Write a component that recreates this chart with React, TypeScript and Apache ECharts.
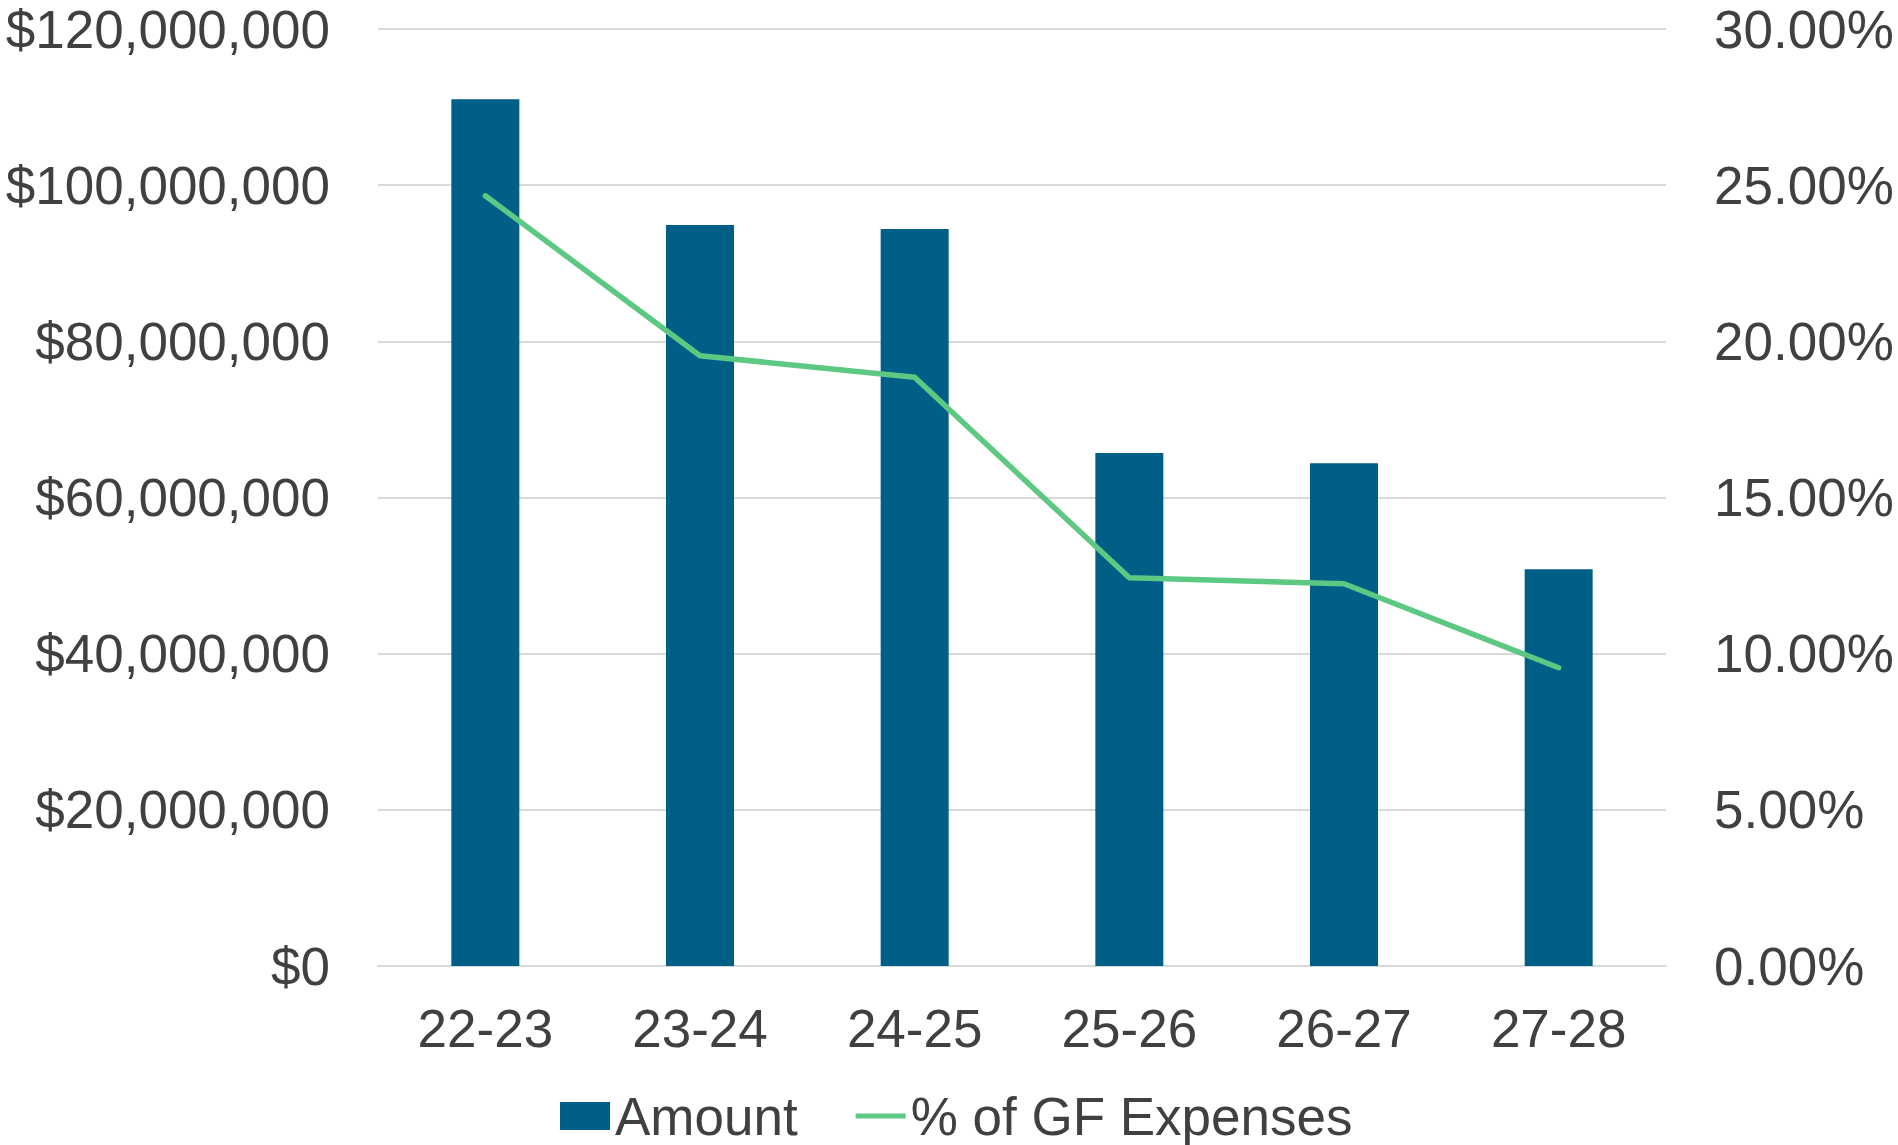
import React, { useEffect, useRef } from "react";
import * as echarts from "echarts";

const categories = ["22-23", "23-24", "24-25", "25-26", "26-27", "27-28"];
const amountValues = [111000000, 94900000, 94400000, 65700000, 64400000, 50800000];
const percentValues = [24.66, 19.54, 18.85, 12.43, 12.24, 9.55];
const leftTicks = { min: 0, max: 120000000, interval: 20000000 };
const rightTicks = { min: 0, max: 30, interval: 5 };

const FONT = "'Liberation Sans', Arial, sans-serif";
const TEXT = "#404040";
const GRID = "#d9d9d9";
const BAR = "#005F87";
const LINE = "#5CC882";
const FS = 53;

export default function App() {
  const ref = useRef<HTMLDivElement>(null);
  useEffect(() => {
    if (!ref.current) return;
    const chart = echarts.init(ref.current, undefined, { renderer: "svg" });
    chart.setOption({
      animation: false,
      backgroundColor: "#ffffff",
      textStyle: { fontFamily: FONT },
      grid: { left: 378, right: 232, top: 29, bottom: 179, containLabel: false },
      legend: {
        left: 555,
        top: 1084,
        itemWidth: 50,
        itemHeight: 28,
        itemGap: 58,
        textStyle: { fontFamily: FONT, fontSize: FS, color: TEXT, lineHeight: 54 },
        data: [
          { name: "Amount", icon: "rect", itemStyle: { color: BAR } },
          {
            name: "% of GF Expenses",
            icon: "path://M0,0L53,0L53,5.5L0,5.5Z",
            itemStyle: { color: LINE },
          },
        ],
      },
      xAxis: {
        type: "category",
        data: categories,
        axisLine: { show: true, lineStyle: { color: GRID, width: 2 } },
        axisTick: { show: false },
        axisLabel: {
          fontFamily: FONT,
          fontSize: FS,
          color: TEXT,
          margin: 36,
          lineHeight: 53,
        },
      },
      yAxis: [
        {
          type: "value",
          min: leftTicks.min,
          max: leftTicks.max,
          interval: leftTicks.interval,
          axisLine: { show: false },
          axisTick: { show: false },
          splitLine: { lineStyle: { color: GRID, width: 2 } },
          axisLabel: {
            fontFamily: FONT,
            fontSize: FS,
            color: TEXT,
            margin: 48,
            formatter: (v: number) => "$" + v.toLocaleString("en-US"),
          },
        },
        {
          type: "value",
          min: rightTicks.min,
          max: rightTicks.max,
          interval: rightTicks.interval,
          axisLine: { show: false },
          axisTick: { show: false },
          splitLine: { show: false },
          axisLabel: {
            fontFamily: FONT,
            fontSize: FS,
            color: TEXT,
            margin: 48,
            formatter: (v: number) => v.toFixed(2) + "%",
          },
        },
      ],
      series: [
        {
          name: "Amount",
          type: "bar",
          data: amountValues,
          barWidth: 68,
          itemStyle: { color: BAR },
          yAxisIndex: 0,
        },
        {
          name: "% of GF Expenses",
          type: "line",
          data: percentValues,
          yAxisIndex: 1,
          showSymbol: false,
          symbol: "none",
          lineStyle: { color: LINE, width: 5.5, cap: "round", join: "round" },
          itemStyle: { color: LINE },
        },
      ],
    });
    return () => chart.dispose();
  }, []);
  return (
    <div
      ref={ref}
      style={{ position: "fixed", left: 0, top: 0, width: 1898, height: 1145, background: "#fff" }}
    />
  );
}
